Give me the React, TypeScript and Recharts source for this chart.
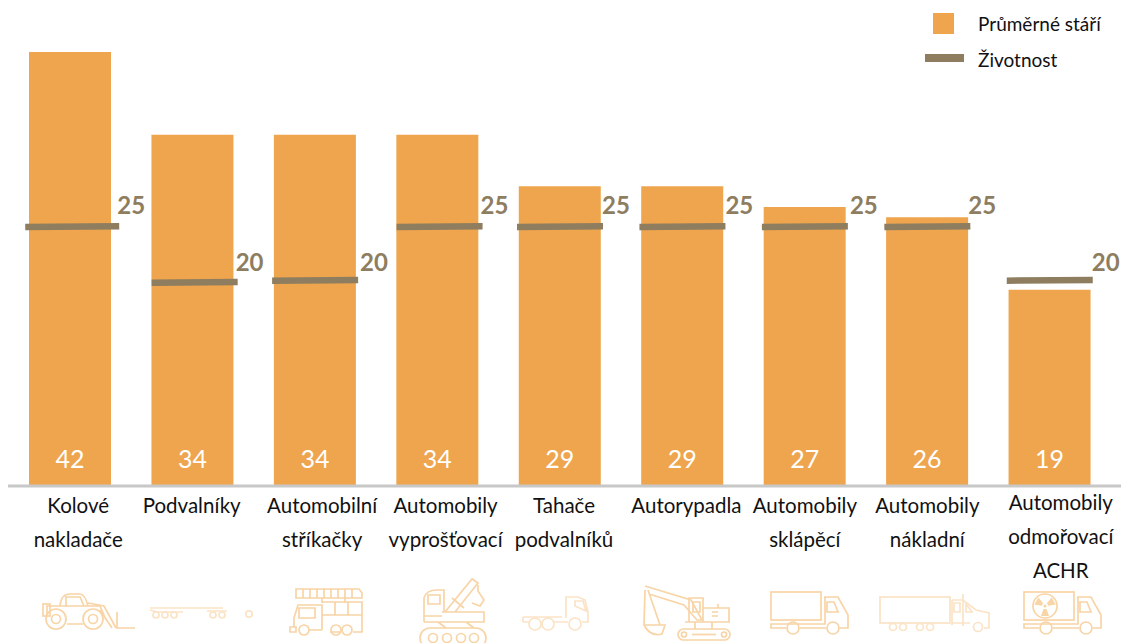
import React from "react";
import { ComposedChart, Bar, Line, XAxis, YAxis, Legend, LabelList } from "recharts";

const categories = [
  "Kolové nakladače",
  "Podvalníky",
  "Automobilní stříkačky",
  "Automobily vyprošťovací",
  "Tahače podvalníků",
  "Autorypadla",
  "Automobily sklápěcí",
  "Automobily nákladní",
  "Automobily odmořovací ACHR",
];
const averageAge = [42, 34, 34, 34, 29, 29, 27, 26, 19];
const lifetime = [25, 20, 20, 25, 25, 25, 25, 25, 20];

const rows = categories.map((name, i) => ({ name, age: averageAge[i], life: lifetime[i] }));

const BAR = "#EEA54E";
const LIFE = "#8E7D5F";
const ICON = "#F8D4A6";
const ICON_LIGHT = "#FBE3C6";
const LABEL_FONT = "Lato, Carlito, sans-serif";

// Small horizontal nudges of the texts and the level markers, seen in the reference
const labelNudge = [8, -1, 7, 8, 4, 4, 0, 0, 11];
const markerNudge = [2, 2, 0, 2, 0, 0, 0, 0, 0];
const valueNudge = [47, 43, 45, 43, 42, 43, 45, 41, 42];
const markerDrop = [-1, 3, 1, -1, -1, -1, -1, -1, 1];

const Truck = ({ dx = 0 }: { dx?: number }) => (
  <g transform={`translate(${dx},0)`}>
    <rect x={771} y={592} width={50} height={28} />
    <path d="M824 597H838L848 615V628H840M826 628H800M786 628H771V624H825V597M827 602H834L838 612H827Z" />
    <circle cx={793} cy={628} r={6} />
    <circle cx={833} cy={628} r={6} />
  </g>
);

const icons: React.ReactNode[] = [
  <g key="0">
    <circle cx={56} cy={619} r={10} />
    <circle cx={56} cy={619} r={4.5} />
    <circle cx={93} cy={619} r={10} />
    <circle cx={93} cy={619} r={4.5} />
    <rect x={43} y={604} width={7} height={12} />
    <path d="M60 606Q61 594 70 594H80Q85 594 88 606M66 606V597H80L84 606M47 616V606H100L106 620M67 624H83M88 603L104 606L116 628M100 610L112 628M117 612V628H135" />
  </g>,
  <g key="1" stroke={ICON_LIGHT}>
    <path d="M150 608H223M150 610L157 612H183M207 611H227" />
    <circle cx={156} cy={615} r={3} />
    <circle cx={165} cy={615} r={3} />
    <circle cx={174} cy={615} r={3} />
    <circle cx={213} cy={615} r={3} />
    <circle cx={222} cy={615} r={3} />
    <circle cx={249} cy={614} r={3.2} />
  </g>,
  <g key="2">
    <path d="M296 598V589H359L362 593V598ZM303 589V598M310 589V598M317 589V598M324 589V598M331 589V598M338 589V598M345 589V598M352 589V598M322 598V603M345 598V603" />
    <path d="M294 627V618L298 605H322V630M322 602H362V632H353M341 632H330M322 615H362M335 602V615M348 602V615M299 608H315V618H299ZM309 630H322M290 627H296V632H290Z" />
    <circle cx={304} cy={630} r={5} />
    <circle cx={336} cy={630} r={5} />
    <circle cx={347} cy={630} r={5} />
  </g>,
  <g key="3">
    <path d="M424 622V598Q426 590 437 590H444V612M428 604V595H440V604ZM424 616H442M445 612L472 579L478 583L455 612M452 598L464 608M478 585V591L484 600L480 606L472 603M442 612H484V622H424M438 622L446 628M466 622L474 628" />
    <rect x={420} y={628} width={66} height={20} rx={10} />
    <circle cx={433} cy={638} r={4.5} />
    <circle cx={447} cy={638} r={4.5} />
    <circle cx={461} cy={638} r={4.5} />
    <circle cx={474} cy={638} r={4.5} />
  </g>,
  <g key="4" stroke={ICON_LIGHT}>
    <path d="M523 617H562M523 617V622M523 622H529M541 622H542M554 622H568M566 618V597H578L585 600L588 612V622H582M575 601H583L586 611L575 606Z" />
    <circle cx={535} cy={624} r={6} />
    <circle cx={548} cy={624} r={6} />
    <circle cx={575} cy={624} r={6} />
  </g>,
  <g key="5">
    <path d="M645 586L691 600L702 620H697L684 605L649 594M648 590L660 625M645 590L644 625Q650 637 662 634L665 625H644" />
    <path d="M689 622V598H703V622M693 602H700V612H693ZM703 608H729V622H685M718 604V608M712 612H718M712 616H718M695 622V629M712 622V629" />
    <rect x={678} y={629} width={52} height={11} rx={5.5} />
    <circle cx={684} cy={634.5} r={2.5} />
    <circle cx={724} cy={634.5} r={2.5} />
    <path d="M692 634.5H716" />
  </g>,
  <Truck key="6" />,
  <g key="7" stroke={ICON_LIGHT}>
    <rect x={880} y={597} width={70} height={26} />
    <path d="M952 600H963L976 610L989 613V628H984M963 594V626M952 623H970M952 600V625" />
    <path d="M954 603H960V612H954ZM966 604L972 612H966Z" />
    <circle cx={893} cy={627} r={3.5} />
    <circle cx={903} cy={627} r={3.5} />
    <circle cx={920} cy={627} r={3.5} />
    <circle cx={930} cy={627} r={3.5} />
    <circle cx={978} cy={627} r={4.5} />
  </g>,
  <g key="8">
    <Truck dx={253} />
    <circle cx={1045} cy={606} r={12} />
    <g fill={ICON} stroke="none">
      <circle cx={1045} cy={606} r={1.6} />
      <path d="M1041 596H1049L1046.5 603H1043.5Z" transform="rotate(180 1045 606)" />
      <path d="M1041 596H1049L1046.5 603H1043.5Z" transform="rotate(60 1045 606)" />
      <path d="M1041 596H1049L1046.5 603H1043.5Z" transform="rotate(-60 1045 606)" />
    </g>
  </g>,
];

const CategoryTick = ({ x, y, index, payload }: any) => {
  const words: string[] = String(payload.value).split(" ");
  const lift = words.length === 3 ? 3 : 0;
  const cx = x + labelNudge[index];
  return (
    <g>
      <text
        x={cx}
        y={y - lift}
        textAnchor="middle"
        fontFamily={LABEL_FONT}
        fontSize={20.5}
        fill="#111111"
      >
        {words.map((w, i) => (
          <tspan key={w} x={cx} dy={i === 0 ? 27 : 34}>
            {w}
          </tspan>
        ))}
      </text>
      <g fill="none" stroke={ICON} strokeWidth={1.7}>
        {icons[index]}
      </g>
    </g>
  );
};

const LifeMarker = ({ cx, cy, index }: any) => {
  const half = index === 0 ? 47 : 43;
  const c = cx + markerNudge[index];
  const drop = markerDrop[index];
  return (
    <line
      key={index}
      x1={c - half}
      x2={c + half}
      y1={cy + drop + 0.3}
      y2={cy + drop - 0.3}
      stroke={LIFE}
      strokeWidth={6.5}
    />
  );
};

const LifeLabel = ({ x, y, value, index }: any) => (
  <text
    x={x + valueNudge[index]}
    y={y - (value === 25 ? 23 : 18)}
    dominantBaseline="central"
    fontFamily={LABEL_FONT}
    fontWeight={700}
    fontSize={24}
    fill={LIFE}
  >
    {value}
  </text>
);

const LegendBox = ({ payload }: any) => (
  <div style={{ position: "relative", width: 1121, height: 80, fontFamily: LABEL_FONT, fontSize: 19, color: "#111" }}>
    {payload.map((p: any, i: number) => (
      <React.Fragment key={p.value}>
        <div
          style={
            i === 0
              ? { position: "absolute", left: 933, top: 13, width: 21, height: 21, background: p.color }
              : { position: "absolute", left: 925, top: 54, width: 39, height: 8, background: p.color }
          }
        />
        <div style={{ position: "absolute", left: 978, top: i === 0 ? 13 : 49, lineHeight: "22px", whiteSpace: "nowrap" }}>
          {p.value}
        </div>
      </React.Fragment>
    ))}
  </div>
);

export default function App() {
  return (
    <div style={{ position: "absolute", left: 0, top: 0, width: 1121, height: 643, overflow: "hidden", background: "#fff" }}>
      <ComposedChart
        width={1121}
        height={643}
        data={rows}
        margin={{ top: 52, right: 0, bottom: 0, left: 8 }}
        barCategoryGap={0}
      >
        <XAxis
          dataKey="name"
          interval={0}
          height={157}
          tickLine={false}
          tickSize={0}
          tickMargin={0}
          padding={{ left: 1, right: 10 }}
          axisLine={{ stroke: "#C8C8C8", strokeWidth: 3 }}
          tick={<CategoryTick />}
        />
        <YAxis hide domain={[0, 42]} />
        <Legend
          layout="vertical"
          align="center"
          verticalAlign="middle"
          wrapperStyle={{ left: 0, top: 0, width: 1121, height: 80 }}
          content={<LegendBox />}
        />
        <Bar dataKey="age" name="Průměrné stáří" fill={BAR} barSize={82} isAnimationActive={false}>
          <LabelList
            dataKey="age"
            position="insideBottom"
            offset={18}
            fill="#FFFFFF"
            fontFamily={LABEL_FONT}
            fontWeight={400}
            fontSize={25}
          />
        </Bar>
        <Line
          dataKey="life"
          name="Životnost"
          stroke={LIFE}
          strokeOpacity={0}
          dot={<LifeMarker />}
          activeDot={false}
          isAnimationActive={false}
          legendType="rect"
        >
          <LabelList dataKey="life" content={<LifeLabel />} />
        </Line>
      </ComposedChart>
    </div>
  );
}
